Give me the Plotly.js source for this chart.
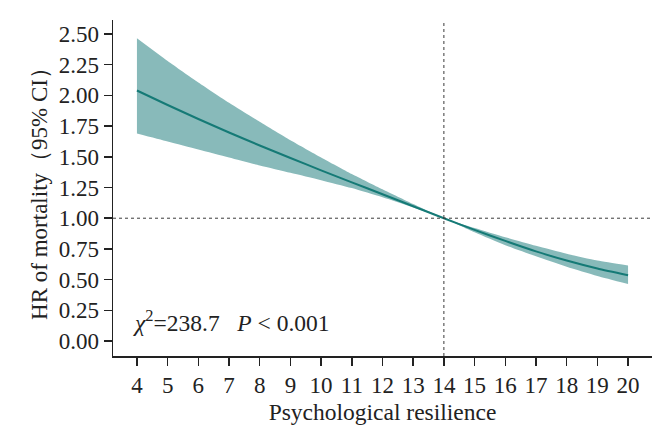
<!DOCTYPE html>
<html>
<head>
<meta charset="utf-8">
<script src="https://cdn.plot.ly/plotly-3.0.1.min.js"></script>
<style>
  body { margin: 0; background: #fff; }
  #chart { width: 670px; height: 431px; }
</style>
</head>
<body>
<div id="chart"></div>
<script>
// psychological resilience score
var resilience = [4, 5, 6, 7, 8, 9, 10, 11, 12, 13, 14, 15, 16, 17, 18, 19, 20];
// hazard ratio and 95% CI
var hr    = [2.04, 1.922, 1.808, 1.698, 1.592, 1.49, 1.39, 1.292, 1.195, 1.097, 1.0, 0.905, 0.815, 0.73, 0.655, 0.59, 0.535];
var upper = [2.465, 2.28, 2.105, 1.94, 1.785, 1.635, 1.495, 1.36, 1.235, 1.115, 1.0, 0.92, 0.845, 0.775, 0.71, 0.655, 0.615];
var lower = [1.69, 1.625, 1.56, 1.495, 1.43, 1.37, 1.31, 1.245, 1.17, 1.087, 1.0, 0.885, 0.78, 0.69, 0.605, 0.53, 0.465];

var refX = 14;
var refY = 1;

var serif = "'Liberation Serif', 'Times New Roman', serif";
var font = {family: serif, size: 23, color: '#222'};
var titleFont = {family: serif, size: 23.5, color: '#222'};

var lowerTrace = {
  x: resilience,
  y: lower,
  type: 'scatter',
  mode: 'lines',
  line: {width: 0, shape: 'spline', smoothing: 0.6, color: '#88baba'},
  hoverinfo: 'skip',
  showlegend: false
};

var upperTrace = {
  x: resilience,
  y: upper,
  type: 'scatter',
  mode: 'lines',
  fill: 'tonexty',
  fillcolor: '#88baba',
  line: {width: 0, shape: 'spline', smoothing: 0.6, color: '#88baba'},
  hoverinfo: 'skip',
  showlegend: false
};

var hrTrace = {
  x: resilience,
  y: hr,
  type: 'scatter',
  mode: 'lines',
  line: {width: 2, shape: 'spline', smoothing: 0.6, color: '#157a76'},
  showlegend: false
};

var axisStyle = {
  showline: true,
  linecolor: '#222',
  linewidth: 1.5,
  ticks: 'outside',
  ticklen: 8,
  tickwidth: 1.5,
  tickcolor: '#222',
  showgrid: false,
  zeroline: false,
  tickfont: font
};

var layout = {
  width: 670,
  height: 431,
  margin: {l: 113, r: 18, t: 20, b: 75},
  paper_bgcolor: '#fff',
  plot_bgcolor: '#fff',
  font: font,
  xaxis: Object.assign({}, axisStyle, {
    range: [3.22, 20.78],
    tick0: 4,
    dtick: 1,
    title: {text: 'Psychological resilience', font: titleFont, standoff: 6}
  }),
  yaxis: Object.assign({}, axisStyle, {
    range: [-0.122, 2.614],
    tick0: 0,
    dtick: 0.25,
    tickformat: '.2f',
    title: {text: 'HR of mortality（95% CI）', font: font, standoff: 4}
  }),
  shapes: [
    {type: 'line', xref: 'paper', yref: 'y', x0: 0, x1: 1, y0: refY, y1: refY,
     line: {color: '#3a3a3a', width: 1, dash: '3px,3px'}},
    {type: 'line', xref: 'x', yref: 'paper', x0: refX, x1: refX, y0: 0, y1: 1,
     line: {color: '#3a3a3a', width: 1, dash: '3px,3px'}}
  ],
  annotations: [{
    x: 3.8, y: 0.16, xref: 'x', yref: 'y',
    xanchor: 'left', yanchor: 'middle',
    showarrow: false,
    text: '<i>χ</i><sup>2</sup>=238.7&nbsp;&nbsp;&nbsp;<i>P</i> &lt; 0.001',
    font: titleFont
  }]
};

Plotly.newPlot('chart', [lowerTrace, upperTrace, hrTrace], layout, {displayModeBar: false, staticPlot: true});
</script>
</body>
</html>
